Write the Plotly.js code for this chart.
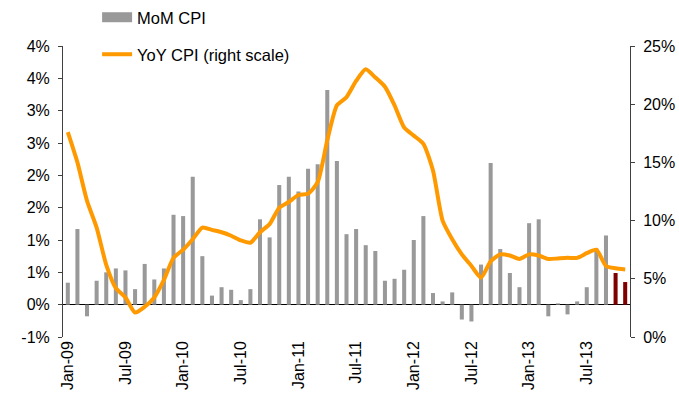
<!DOCTYPE html>
<html>
<head>
<meta charset="utf-8">
<script src="https://cdn.plot.ly/plotly-3.0.1.min.js"></script>
<style>html,body{margin:0;padding:0;background:#fff;}#chart{width:679px;height:400px;}</style>
</head>
<body>
<div id="chart"></div>
<script>
// ---- data ----
const months = ['Jan-09','Feb-09','Mar-09','Apr-09','May-09','Jun-09','Jul-09','Aug-09','Sep-09','Oct-09','Nov-09','Dec-09',
  'Jan-10','Feb-10','Mar-10','Apr-10','May-10','Jun-10','Jul-10','Aug-10','Sep-10','Oct-10','Nov-10','Dec-10',
  'Jan-11','Feb-11','Mar-11','Apr-11','May-11','Jun-11','Jul-11','Aug-11','Sep-11','Oct-11','Nov-11','Dec-11',
  'Jan-12','Feb-12','Mar-12','Apr-12','May-12','Jun-12','Jul-12','Aug-12','Sep-12','Oct-12','Nov-12','Dec-12',
  'Jan-13','Feb-13','Mar-13','Apr-13','May-13','Jun-13','Jul-13','Aug-13','Sep-13','Oct-13','Nov-13'];
const momCPI = [0.34,1.17,-0.18,0.37,0.50,0.56,0.53,0.24,0.63,0.39,0.56,1.39,
  1.37,1.98,0.75,0.14,0.27,0.23,0.07,0.24,1.32,1.04,1.85,1.98,
  1.75,2.10,2.17,3.32,2.22,1.09,1.17,0.92,0.83,0.37,0.40,0.54,
  1.00,1.37,0.18,0.05,0.19,-0.23,-0.26,0.62,2.19,0.86,0.49,0.27,
  1.26,1.32,-0.18,0.02,-0.15,0.05,0.27,0.87,1.07,0.49,0.35];
const yoyCPI = [17.6,15.0,11.7,9.4,6.2,4.2,3.4,2.1,2.6,3.4,4.9,6.8,
  7.5,8.4,9.4,9.2,9.0,8.7,8.3,8.1,9.0,9.7,11.1,11.6,
  12.2,12.3,13.3,16.9,19.9,20.6,22.0,23.0,22.3,21.5,19.9,18.0,
  17.3,16.6,14.3,10.0,8.4,7.1,6.1,5.1,6.5,7.1,7.0,6.7,
  7.1,7.0,6.7,6.75,6.8,6.8,7.2,7.5,6.1,5.9,5.8];
const highlightMonths = ['Oct-13','Nov-13'];
const xTickLabels = ['Jan-09','Jul-09','Jan-10','Jul-10','Jan-11','Jul-11','Jan-12','Jul-12','Jan-13','Jul-13'];
const leftTickVals = [-0.5,0,0.5,1,1.5,2,2.5,3,3.5,4];
const leftTickText = ['-1%','0%','1%','1%','2%','2%','3%','3%','4%','4%'];
const rightTickVals = [0,5,10,15,20,25];
const rightTickText = ['0%','5%','10%','15%','20%','25%'];

// ---- styles ----
const GRAY = '#999999', DARK = '#7f0000', ORANGE = '#ff9900', AXIS = '#404040';
const FONT = 'Liberation Sans, Arial, sans-serif';
const barColors = months.map(m => highlightMonths.includes(m) ? DARK : GRAY);
const boundaryTicks = xTickLabels.map(l => months.indexOf(l) - 0.5);

const traces = [
  {type:'bar', x: months, y: momCPI, name:'MoM CPI', marker:{color: barColors},
   showlegend:false, legendgroup:'mom', yaxis:'y', xaxis:'x', hoverinfo:'skip'},
  // legend-only swatch for the bars (wide grey block as in the original legend)
  {type:'scatter', mode:'lines', x:[null], y:[null], name:'MoM CPI', legendgroup:'mom',
   line:{color: GRAY, width: 11}, legend:'legend', yaxis:'y', xaxis:'x', hoverinfo:'skip'},
  {type:'scatter', mode:'lines', x: months, y: yoyCPI, name:'YoY CPI (right scale)',
   line:{color: ORANGE, width: 4, shape:'spline', smoothing:0.6},
   legend:'legend2', yaxis:'y2', xaxis:'x', hoverinfo:'skip'}
];

const layout = {
  width: 679, height: 400,
  margin: {l:63, r:49, t:46, b:63, autoexpand:false},
  paper_bgcolor:'#fff', plot_bgcolor:'rgba(0,0,0,0)',
  font: {family: FONT, size: 16, color:'#000'},
  bargap: 0.58,
  showlegend: true,
  legend: {xref:'container', yref:'container', x: 0.143, xanchor:'left', y: 1.0, yanchor:'top',
    bgcolor:'rgba(0,0,0,0)', font:{family: FONT, size: 16.5}},
  legend2: {xref:'container', yref:'container', x: 0.143, xanchor:'left', y: 0.9075, yanchor:'top',
    bgcolor:'rgba(0,0,0,0)', font:{family: FONT, size: 16.5}},
  xaxis: {type:'category', range:[-0.5, months.length - 0.5], tickmode:'array', tickvals: xTickLabels,
    ticktext: xTickLabels, tickangle: -90, ticks:'', showline:false, showgrid:false, zeroline:false,
    tickfont:{family: FONT, size: 16}},
  xaxis2: {overlaying:'x', anchor:'free', position: 0.5/4.5, type:'linear', range:[-0.5, months.length - 0.5],
    tickmode:'array', tickvals: boundaryTicks, showticklabels:false, ticks:'outside', ticklen:4,
    tickcolor:'#000', showline:false, showgrid:false, zeroline:false},
  yaxis: {range:[-0.5, 4], tickmode:'array', tickvals: leftTickVals, ticktext: leftTickText,
    showline:true, linecolor: AXIS, linewidth:1, ticks:'outside', ticklen:4, tickcolor: AXIS,
    ticklabelstandoff: 5,
    showgrid:false, zeroline:true, zerolinecolor:'#000', zerolinewidth:1,
    tickfont:{family: FONT, size: 16}},
  yaxis2: {overlaying:'y', side:'right', range:[0, 25], tickmode:'array', tickvals: rightTickVals,
    ticktext: rightTickText, showline:true, linecolor: AXIS, linewidth:1, ticks:'outside', ticklen:4, tickcolor: AXIS,
    ticklabelstandoff: 5,
    showgrid:false, zeroline:false, tickfont:{family: FONT, size: 16}}
};

Plotly.newPlot('chart', traces, layout, {staticPlot:true, displayModeBar:false});
</script>
</body>
</html>
